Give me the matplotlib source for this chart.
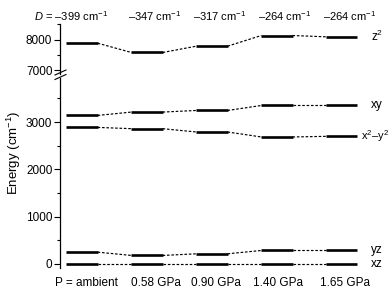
import matplotlib
matplotlib.use('Agg')
import matplotlib.pyplot as plt

plt.rcParams['font.family'] = ['Liberation Sans', 'DejaVu Sans']
plt.rcParams['mathtext.fontset'] = 'custom'
plt.rcParams['mathtext.rm'] = 'Liberation Sans'
plt.rcParams['mathtext.it'] = 'Liberation Sans:italic'

# energy levels (cm-1) for each pressure
positions = [1, 2, 3, 4, 5]
pressures = ['P = ambient', '0.58 GPa', '0.90 GPa', '1.40 GPa', '1.65 GPa']
d_values = ['–399', '–347', '–317', '–264', '–264']
xz = [0, 0, 0, 0, 0]
yz = [250, 180, 215, 285, 285]
x2y2 = [2886, 2859, 2789, 2684, 2697]
xy = [3139, 3210, 3244, 3349, 3349]
z2 = [7881, 7581, 7785, 8129, 8086]

W, H = 392, 289
fig = plt.figure(figsize=(W / 100, H / 100), dpi=100)

left, right = 60 / W, 362 / W
ax_top = fig.add_axes([left, 1 - 73.6 / H, right - left, (73.6 - 24) / H])
ax_bot = fig.add_axes([left, 1 - 268 / H, right - left, (268 - 78) / H])

half = 0.24
fs = 8.5


def draw_levels(ax, vals):
    for i, (x, v) in enumerate(zip(positions, vals)):
        ax.plot([x - half, x + half], [v, v], color='black', lw=1.9,
                solid_capstyle='butt')
        if i < len(vals) - 1:
            ax.plot([x + half, positions[i + 1] - half], [v, vals[i + 1]],
                    color='black', lw=0.85, ls=(0, (2.2, 1.5)))


for ax in (ax_top, ax_bot):
    ax.set_xlim(0.66, 5.31)
    for s in ('top', 'right', 'bottom'):
        ax.spines[s].set_visible(False)
    ax.spines['left'].set_linewidth(0.9)
    ax.set_xticks([])
    ax.tick_params(axis='y', which='major', direction='out', length=4,
                   width=0.8, labelsize=fs, pad=1.5)
    ax.tick_params(axis='y', which='minor', direction='out', length=2.5,
                   width=0.8)
    ax.patch.set_visible(False)

draw_levels(ax_top, z2)
ax_top.set_ylim(6900, 8500)
ax_top.set_yticks([7000, 8000])
ax_top.set_yticks([7500, 8500], minor=True)

for vals in (xz, yz, x2y2, xy):
    draw_levels(ax_bot, vals)
ax_bot.set_ylim(-85, 3930)
ax_bot.set_yticks([0, 1000, 2000, 3000])
ax_bot.set_yticks([500, 1500, 2500, 3500], minor=True)

# axis break marks
for yy in (72.5, 77.0):
    fig.add_artist(plt.Line2D([55 / W, 66 / W],
                              [1 - (yy + 2.5) / H, 1 - (yy - 2.5) / H],
                              color='black', lw=0.8))

# right-hand orbital labels
ax_top.text(5.45, z2[-1], 'z$^2$', fontsize=fs, va='center', ha='left')
ax_bot.text(5.45, xy[-1], 'xy', fontsize=fs, va='center', ha='left')
ax_bot.text(5.29, x2y2[-1], 'x$^2$–y$^2$', fontsize=8, va='center', ha='left')
ax_bot.text(5.45, yz[-1], 'yz', fontsize=fs, va='center', ha='left')
ax_bot.text(5.45, xz[-1], 'xz', fontsize=fs, va='center', ha='left')

# D values on top
for i, (x, d) in enumerate(zip(positions, d_values)):
    label = d + ' cm$^{-1}$'
    if i == 0:
        label = '$\\it{D}$ = ' + label
        ax_top.text(x + 0.40, 1.16, label, fontsize=8, ha='right', va='center',
                    transform=ax_top.get_xaxis_transform())
    else:
        ax_top.text(x + 0.12, 1.16, label, fontsize=8, ha='center', va='center',
                    transform=ax_top.get_xaxis_transform())

# pressures at bottom
label_x = [1.06, 2.14, 3.06, 4.02, 5.05]
for x, p in zip(label_x, pressures):
    ax_bot.text(x, -0.08, p, fontsize=fs, ha='center', va='center',
                transform=ax_bot.get_xaxis_transform())

fig.text(14 / W, 1 - 153 / H, 'Energy (cm$^{-1}$)', rotation=90, fontsize=9.5,
         ha='center', va='center')

fig.savefig('out.png', dpi=100)
